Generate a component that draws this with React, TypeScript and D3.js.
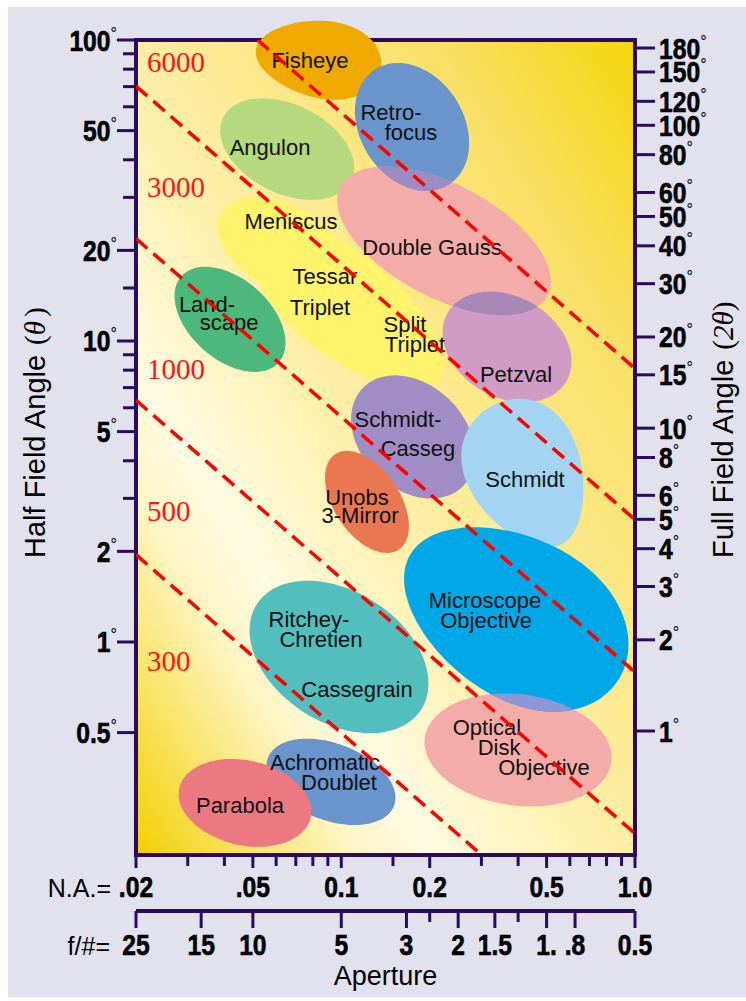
import React from 'react';
import * as d3 from 'd3';

// ---------- axis data ----------
const naMajor = [0.02, 0.05, 0.1, 0.2, 0.5, 1.0];
const naMajorLabels = ['.02', '.05', '0.1', '0.2', '0.5', '1.0'];
const naMinor = [0.03, 0.04, 0.06, 0.07, 0.08, 0.09, 0.15, 0.3, 0.4, 0.6, 0.7, 0.8, 0.9];
const fMajor = [25, 15, 10, 5, 3, 2, 1.5, 1, 0.8, 0.5];
const fMajorLabels = ['25', '15', '10', '5', '3', '2', '1.5', '1.', '.8', '0.5'];
const fMinor = [2.5, 1.25];
const halfMajor = [100, 50, 20, 10, 5, 2, 1, 0.5];
const halfMajorLabels = ['100', '50', '20', '10', '5', '2', '1', '0.5'];
const halfMinor = [90, 80, 70, 60, 40, 30, 15, 9, 8, 7, 6, 4, 3];
const fullTicks = [180, 150, 120, 100, 80, 60, 50, 40, 30, 20, 15, 10, 8, 6, 5, 4, 3, 2, 1];

// ---------- dashed iso-lines ----------
const lineValues = [6000, 3000, 1000, 500, 300];
const lineThetaAtNAmin = [225, 70.3, 21.9, 6.36, 1.95];
const lineThetaAtNAmax = [8.1, 2.55, 0.794, 0.231, 0.0708];
const lineLabelTheta = [78.3, 30.1, 7.48, 2.52, 0.801];

// ---------- lens-type regions (centre NA, centre half angle, semi-axes in decades, tilt) ----------
const blobs = [
  { name: 'Angulon', na: 0.0654, theta: 43.4, a: 0.242, b: 0.148, rot: 25, egg: 0, color: '#b5d97c' },
  { name: 'Fisheye', na: 0.0836, theta: 86.5, a: 0.215, b: 0.128, rot: 8, egg: 0.15, color: '#f0a900' },
  { name: 'Retro-focus', na: 0.1741, theta: 51.4, a: 0.229, b: 0.175, rot: 55, egg: 0, color: '#6a94cc' },
  { name: 'Meniscus', na: 0.0628, theta: 20.5, a: 0.235, b: 0.14, rot: 27, egg: 0, color: '#fff46c' },
  { name: 'Triplet', na: 0.1071, theta: 12.7, a: 0.38, b: 0.172, rot: 37, egg: -0.1, color: '#fff46c' },
  { name: 'Double Gauss', na: 0.2238, theta: 21.5, a: 0.397, b: 0.189, rot: 27, egg: 0, color: '#f4aca9' },
  { name: 'Landscape', na: 0.0418, theta: 11.8, a: 0.219, b: 0.135, rot: 40, egg: 0, color: '#4cb87b' },
  { name: 'Petzval', na: 0.3667, theta: 9.55, a: 0.232, b: 0.168, rot: 28, egg: 0, color: '#d09cc5' },
  { name: 'Schmidt-Casseg', na: 0.1755, theta: 4.8, a: 0.236, b: 0.175, rot: 42, egg: 0, color: '#a18dc5' },
  { name: 'Schmidt', na: 0.4289, theta: 3.59, a: 0.259, b: 0.192, rot: 63, egg: -0.2, color: '#a3d5f3' },
  { name: 'Unobs 3-Mirror', na: 0.1223, theta: 2.92, a: 0.192, b: 0.111, rot: 55, egg: 0, color: '#e9774f' },
  { name: 'Ritchey-Chretien', na: 0.0982, theta: 0.892, a: 0.33, b: 0.219, rot: 31, egg: 0, color: '#52bebd' },
  { name: 'Optical Disk', na: 0.3997, theta: 0.438, a: 0.32, b: 0.185, rot: 7, egg: 0, color: '#f4aca9' },
  { name: 'Microscope', na: 0.3905, theta: 1.22, a: 0.411, b: 0.266, rot: 29, egg: 0.1, color: '#00a8e7' },
  { name: 'Achromatic', na: 0.0922, theta: 0.343, a: 0.229, b: 0.128, rot: 20, egg: 0, color: '#6a94cc' },
  { name: 'Parabola', na: 0.047, theta: 0.292, a: 0.229, b: 0.141, rot: 12, egg: 0, color: '#ec7882' },
];

const overlaps = [
  { top: 'Retro-focus', under: 'Double Gauss', color: '#9b8cc2' },
  { top: 'Petzval', under: 'Double Gauss', color: '#a887b7' },
  { top: 'Microscope', under: 'Optical Disk', color: '#8b97d6' },
];

// ---------- region labels (text, NA, half angle at baseline centre) ----------
const regionLabels = [
  { text: 'Fisheye', na: 0.0782, theta: 80.7 },
  { text: 'Retro-', na: 0.1477, theta: 54.2 },
  { text: 'focus', na: 0.1727, theta: 46.5 },
  { text: 'Angulon', na: 0.0572, theta: 41.5 },
  { text: 'Meniscus', na: 0.0674, theta: 23.5 },
  { text: 'Double Gauss', na: 0.2036, theta: 19.3 },
  { text: 'Tessar', na: 0.088, theta: 15.5 },
  { text: 'Triplet', na: 0.0846, theta: 12.2 },
  { text: 'Land-', na: 0.0349, theta: 12.5 },
  { text: 'scape', na: 0.0415, theta: 10.9 },
  { text: 'Split', na: 0.1648, theta: 10.7 },
  { text: 'Triplet', na: 0.1782, theta: 9.19 },
  { text: 'Petzval', na: 0.3934, theta: 7.31 },
  { text: 'Schmidt-', na: 0.156, theta: 5.18 },
  { text: 'Casseg', na: 0.1825, theta: 4.15 },
  { text: 'Schmidt', na: 0.4222, theta: 3.27 },
  { text: 'Unobs', na: 0.1131, theta: 2.85 },
  { text: '3-Mirror', na: 0.1158, theta: 2.48 },
  { text: 'Microscope', na: 0.3086, theta: 1.3 },
  { text: 'Objective', na: 0.311, theta: 1.11 },
  { text: 'Ritchey-', na: 0.0776, theta: 1.12 },
  { text: 'Chretien', na: 0.0853, theta: 0.962 },
  { text: 'Cassegrain', na: 0.1131, theta: 0.657 },
  { text: 'Optical', na: 0.3134, theta: 0.491 },
  { text: 'Disk', na: 0.3444, theta: 0.421 },
  { text: 'Objective', na: 0.49, theta: 0.361 },
  { text: 'Achromatic', na: 0.088, theta: 0.376 },
  { text: 'Doublet', na: 0.0982, theta: 0.322 },
  { text: 'Parabola', na: 0.0452, theta: 0.27 },
];

const BOLD = '"Liberation Sans",Arial,Helvetica,sans-serif';
const SANS = '"Liberation Sans",Arial,Helvetica,sans-serif';
const SERIF = '"Liberation Serif","Times New Roman",serif';
const AXIS = '#2b0b5e';
const SQUEEZE = 0.85;

export default function App() {
  const x = d3.scaleLog().domain([0.02, 1]).range([136, 635]);
  const y = d3.scaleLog().domain([0.196, 100]).range([855, 40]);
  const yR = d3.scaleLog().domain([1, 180]).range([731, 48]);
  const fx = (f: number) => x(1 / (2 * f));
  const [x0, x1] = x.range();
  const [yb, yt] = y.range();

  const blobPath = (bl: any) => {
    const lu = Math.log10(bl.na);
    const lv = Math.log10(bl.theta);
    const phi = (bl.rot * Math.PI) / 180;
    const pts: [number, number][] = d3.range(96).map((i) => {
      const t = (i / 96) * 2 * Math.PI;
      const lx = bl.a * Math.cos(t);
      const ly = bl.b * Math.sin(t) * (1 + (bl.egg || 0) * Math.cos(t));
      const du = lx * Math.cos(phi) - ly * Math.sin(phi);
      const dv = lx * Math.sin(phi) + ly * Math.cos(phi);
      return [x(Math.pow(10, lu + du)), y(Math.pow(10, lv - dv))];
    });
    return d3.line().curve(d3.curveCardinalClosed)(pts) as string;
  };
  const paths: Record<string, string> = {};
  blobs.forEach((b) => (paths[b.name] = blobPath(b)));

  const lineGen = d3.line<[number, number]>().x((d) => x(d[0])).y((d) => y(d[1]));

  const boldText = (key: any, tx: number, ty: number, anchor: string, label: string, withDeg: boolean) => (
    <text
      key={key}
      transform={`translate(${tx},${ty}) scale(${SQUEEZE},1)`}
      textAnchor={anchor}
      fontFamily={BOLD}
      fontWeight="bold"
      fontSize={29}
      fill="#000"
      stroke="#000"
      strokeWidth={0.6}
    >
      {label}
      {withDeg && (
        <tspan fontFamily={SANS} fontWeight="normal" fontSize={19} strokeWidth={0} dy={-11}>
          °
        </tspan>
      )}
    </text>
  );

  return (
    <svg width={746} height={1001} style={{ position: 'absolute', left: 0, top: 0 }}>
      <defs>
        <linearGradient id="bgGrad" x1="0" y1="1" x2="1" y2="0">
          <stop offset="0" stopColor="#f2cf00" />
          <stop offset="0.1" stopColor="#f9e15a" />
          <stop offset="0.22" stopColor="#fef5c4" />
          <stop offset="0.3" stopColor="#fffbe2" />
          <stop offset="0.45" stopColor="#fef1b0" />
          <stop offset="0.6" stopColor="#fce98c" />
          <stop offset="0.8" stopColor="#f9e066" />
          <stop offset="1" stopColor="#f5d60a" />
        </linearGradient>
        <clipPath id="plotClip">
          <rect x={x0} y={yt} width={x1 - x0} height={yb - yt} />
        </clipPath>
        {overlaps.map((o, i) => (
          <clipPath key={i} id={`ov${i}`}>
            <path d={paths[o.under]} />
          </clipPath>
        ))}
      </defs>

      <rect x={8} y={7} width={738} height={990} fill="#e2e1ee" />
      <rect x={x0} y={yt} width={x1 - x0} height={yb - yt} fill="url(#bgGrad)" />
      <rect x={x0} y={yt} width={x1 - x0} height={yb - yt} fill="none" stroke={AXIS} strokeWidth={4} />

      {/* regions */}
      {blobs.map((b) => (
        <path key={b.name} d={paths[b.name]} fill={b.color} />
      ))}
      {overlaps.map((o, i) => (
        <path key={'o' + i} d={paths[o.top]} fill={o.color} clipPath={`url(#ov${i})`} />
      ))}

      {/* region labels */}
      <g fontFamily={SANS} fontSize={22} fill="#111" textAnchor="middle">
        {regionLabels.map((l, i) => (
          <text key={i} x={x(l.na)} y={y(l.theta)}>
            {l.text}
          </text>
        ))}
      </g>

      {/* dashed lines */}
      <g clipPath="url(#plotClip)">
        {lineValues.map((v, i) => (
          <path
            key={v}
            d={lineGen([
              [0.02, lineThetaAtNAmin[i]],
              [1, lineThetaAtNAmax[i]],
            ]) as string}
            stroke="#ff0000"
            strokeWidth={3.5}
            strokeDasharray="15 8"
            fill="none"
          />
        ))}
      </g>
      <g fontFamily={SERIF} fontSize={29} fill="#ff1414">
        {lineValues.map((v, i) => (
          <text key={v} x={x(0.02) + 11} y={y(lineLabelTheta[i])}>
            {v}
          </text>
        ))}
      </g>

      {/* left axis */}
      <g stroke={AXIS} strokeWidth={3}>
        {halfMajor.map((v) => (
          <line key={v} x1={x0 - 19} x2={x0} y1={y(v)} y2={y(v)} />
        ))}
        {halfMinor.map((v) => (
          <line key={v} x1={x0 - 13} x2={x0} y1={y(v)} y2={y(v)} />
        ))}
      </g>
      {halfMajor.map((v, i) => boldText(v, x0 - 19, y(v) + 10.5, 'end', halfMajorLabels[i], true))}

      {/* right axis */}
      <g stroke={AXIS} strokeWidth={3}>
        {fullTicks.map((v) => (
          <line key={v} x1={x1} x2={x1 + 20} y1={yR(v)} y2={yR(v)} />
        ))}
      </g>
      {fullTicks.map((v) => boldText(v, x1 + 24, yR(v) + 10.5, 'start', String(v), true))}

      {/* bottom N.A. axis */}
      <g stroke={AXIS} strokeWidth={3}>
        {naMajor.map((v) => (
          <line key={v} x1={x(v)} x2={x(v)} y1={yb} y2={yb + 13} />
        ))}
        {naMinor.map((v) => (
          <line key={v} x1={x(v)} x2={x(v)} y1={yb} y2={yb + 11} />
        ))}
      </g>
      {naMajor.map((v, i) => boldText(v, x(v), 897, 'middle', naMajorLabels[i], false))}
      <text x={111} y={897} fontFamily={SANS} fontSize={25} textAnchor="end" fill="#000">
        N.A.=
      </text>

      {/* f-number axis */}
      <line x1={fx(25)} x2={fx(0.5)} y1={911} y2={911} stroke={AXIS} strokeWidth={4} />
      <g stroke={AXIS} strokeWidth={3}>
        {fMajor.map((v) => (
          <line key={v} x1={fx(v)} x2={fx(v)} y1={911} y2={928} />
        ))}
        {fMinor.map((v) => (
          <line key={v} x1={fx(v)} x2={fx(v)} y1={911} y2={922} />
        ))}
      </g>
      {fMajor.map((v, i) => boldText(v, fx(v), 955, 'middle', fMajorLabels[i], false))}
      <text x={110} y={955} fontFamily={SANS} fontSize={25} textAnchor="end" fill="#000">
        f/#=
      </text>
      <text x={(x0 + x1) / 2} y={985} fontFamily={SANS} fontSize={27} textAnchor="middle" fill="#000">
        Aperture
      </text>

      {/* axis titles */}
      <text transform="translate(45,558) rotate(-90)" fontFamily={SANS} fontSize={29} fill="#000">
        Half Field Angle
        <tspan dx={10} fontFamily={SERIF}>(</tspan>
        <tspan fontFamily={SERIF} fontStyle="italic">θ</tspan>
        <tspan fontFamily={SERIF} dx={4}>)</tspan>
      </text>
      <text transform="translate(733,558) rotate(-90)" fontFamily={SANS} fontSize={29} fill="#000">
        Full Field Angle
        <tspan dx={10} fontFamily={SERIF}>(</tspan>
        <tspan fontFamily={SERIF} fontStyle="italic">2θ</tspan>
        <tspan fontFamily={SERIF}>)</tspan>
      </text>
    </svg>
  );
}
